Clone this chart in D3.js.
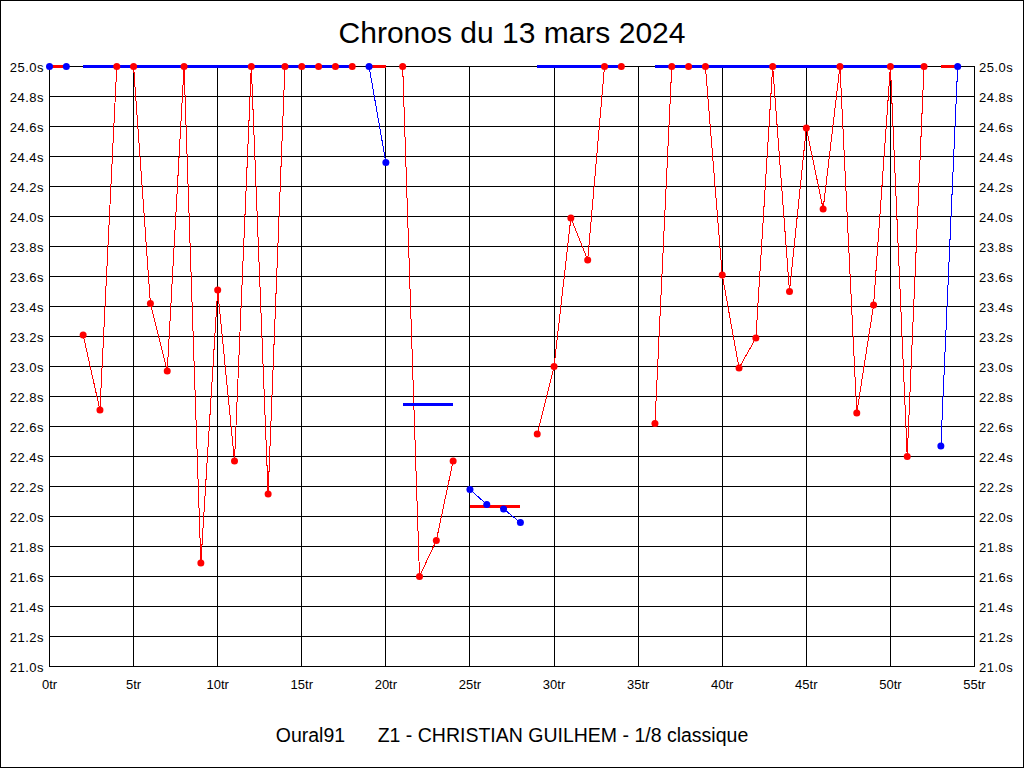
<!DOCTYPE html>
<html><head><meta charset="utf-8">
<script src="https://cdn.jsdelivr.net/npm/d3@7"></script>
<style>
html,body{margin:0;padding:0;background:#fff;}
svg{display:block;font-family:"Liberation Sans",Arial,sans-serif;}
</style></head>
<body>
<svg id="c" width="1024" height="768"></svg>
<script>
// ---- data ----
const titleText = "Chronos du 13 mars 2024";
const footerLeft = "Oural91";
const footerRight = "Z1 - CHRISTIAN GUILHEM - 1/8 classique";
// lap times (s), index = lap number, null = no lap
const lapTimes = [
  25.0, 25.0, 23.21, 22.71, 25.0, 25.0, 23.42, 22.97, 25.0, 21.69,
  23.51, 22.37, 25.0, 22.15, 25.0, 25.0, 25.0, 25.0, 25.0, 25.0,
  24.36, 25.0, 21.60, 21.84, 22.37, 22.18, 22.08, 22.05, 21.96, 22.55,
  23.00, 23.99, 23.71, 25.0, 25.0, null, 22.62, 25.0, 25.0, 25.0,
  23.61, 22.99, 23.19, 25.0, 23.50, 24.59, 24.05, 25.0, 22.69, 23.41,
  25.0, 22.40, 25.0, 22.47, 25.0
];
const stintStart = [0, 2, 19, 21, 25, 29, 36, 53];
const stintEnd   = [1, 18, 20, 24, 28, 34, 52, 54];
const stintPointColor = ["blue", "red", "blue", "red", "blue", "red", "red", "blue"];
const stintAvg   = [25.0, 25.0, 25.0, 22.75, 22.07, 25.0, 25.0, 25.0];
const stintAvgColor = ["red", "blue", "red", "blue", "red", "blue", "blue", "red"];
const xTicks = d3.range(0, 56, 5);
const yTicks = d3.range(21.0, 25.01, 0.2).map(v => +v.toFixed(1));

const colorMap = {red: "#ff0000", blue: "#0000ff"};

// ---- chart ----
const svg = d3.select("#c");
const x = d3.scaleLinear().domain([0, 55]).range([49.5, 974.5]);
const y = d3.scaleLinear().domain([21.0, 25.0]).range([666.5, 66.5]);

svg.append("rect").attr("x", 0.5).attr("y", 0.5).attr("width", 1023).attr("height", 767)
  .attr("fill", "#fff").attr("stroke", "#000").attr("stroke-width", 1);

// grid
const grid = svg.append("g").attr("shape-rendering", "crispEdges");
grid.selectAll("line.h").data(yTicks).join("line")
  .attr("x1", x(0)).attr("x2", x(55))
  .attr("y1", d => y(d)).attr("y2", d => y(d))
  .attr("stroke", "#000").attr("stroke-width", 1);
grid.selectAll("line.v").data(xTicks).join("line")
  .attr("x1", d => Math.round(x(d) - 0.5) + 0.5).attr("x2", d => Math.round(x(d) - 0.5) + 0.5)
  .attr("y1", y(25.0)).attr("y2", y(21.0))
  .attr("stroke", "#000").attr("stroke-width", 1);

// axis labels
const fmtY = d => d.toFixed(1) + "s";
svg.append("g").selectAll("text").data(yTicks).join("text")
  .attr("x", 44).attr("y", d => y(d) + 5)
  .attr("text-anchor", "end").attr("font-size", 13).attr("letter-spacing", 0.5).attr("fill", "#000")
  .text(fmtY);
svg.append("g").selectAll("text").data(yTicks).join("text")
  .attr("x", 979).attr("y", d => y(d) + 5)
  .attr("text-anchor", "start").attr("font-size", 13).attr("letter-spacing", 0.5).attr("fill", "#000")
  .text(fmtY);
svg.append("g").selectAll("text").data(xTicks).join("text")
  .attr("x", d => x(d)).attr("y", 689)
  .attr("text-anchor", "middle").attr("font-size", 13).attr("fill", "#000")
  .text(d => d + "tr");

// lap lines
const stints = stintStart.map((s, i) => ({s, e: stintEnd[i], pc: stintPointColor[i], avg: stintAvg[i], ac: stintAvgColor[i]}));
const line = d3.line().x(d => x(d.lap)).y(d => y(d.t));
const stintPts = stints.map(st => ({
  color: st.pc,
  pts: d3.range(st.s, st.e + 1).filter(l => lapTimes[l] != null).map(l => ({lap: l, t: lapTimes[l]}))
}));
svg.append("g").selectAll("path").data(stintPts).join("path")
  .attr("d", d => line(d.pts))
  .attr("fill", "none").attr("stroke", d => colorMap[d.color]).attr("stroke-width", 1)
  .attr("shape-rendering", "crispEdges");

// stint averages
svg.append("g").attr("shape-rendering", "crispEdges").selectAll("line").data(stints).join("line")
  .attr("x1", d => x(d.s)).attr("x2", d => x(d.e))
  .attr("y1", d => y(d.avg)).attr("y2", d => y(d.avg))
  .attr("stroke", d => colorMap[d.ac]).attr("stroke-width", 3);

// points
const allPts = stintPts.flatMap(s => s.pts.map(p => ({...p, color: s.color})));
svg.append("g").selectAll("circle").data(allPts).join("circle")
  .attr("cx", d => x(d.lap)).attr("cy", d => y(d.t)).attr("r", 3.5)
  .attr("fill", d => colorMap[d.color]);

// title & footer
svg.append("text").attr("x", 512).attr("y", 43).attr("text-anchor", "middle")
  .attr("font-size", 30).attr("fill", "#000").text(titleText);
svg.append("text").attr("x", 512).attr("y", 742).attr("text-anchor", "middle")
  .attr("font-size", 19.5).attr("fill", "#000")
  .text(footerLeft + "\u00a0\u00a0\u00a0\u00a0\u00a0\u00a0" + footerRight);
</script>
</body></html>
